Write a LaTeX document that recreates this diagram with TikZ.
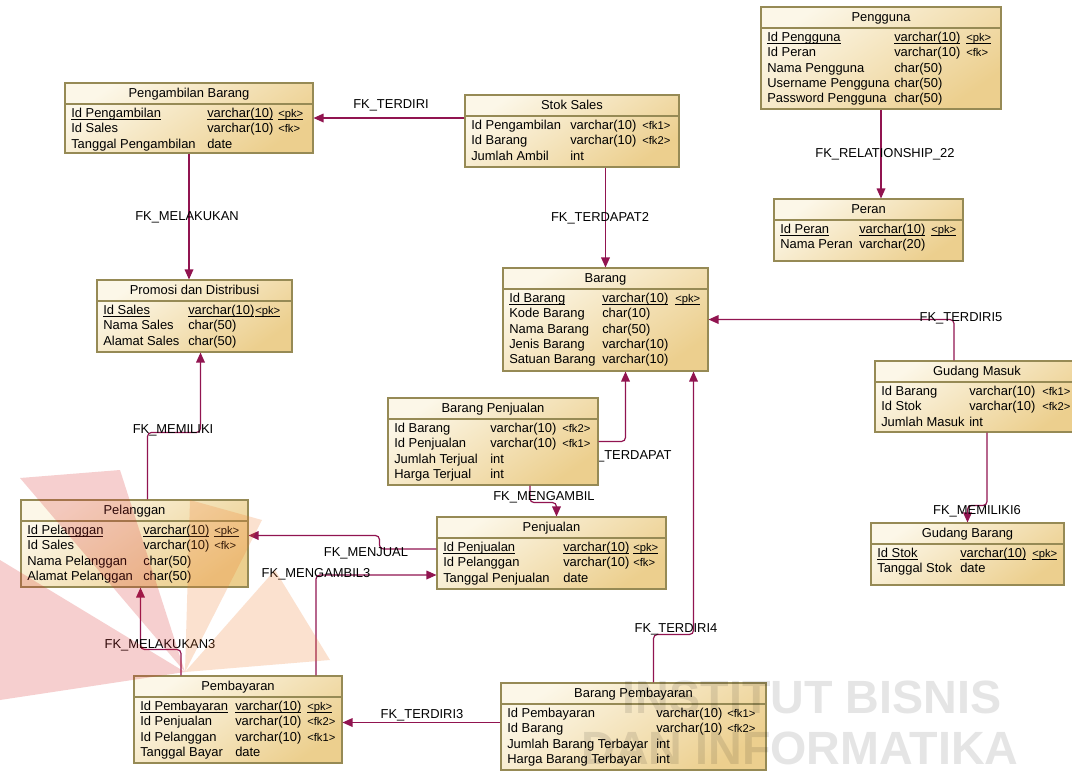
\documentclass[tikz,border=0pt]{standalone}
\usepackage{fontspec}
\setmainfont{Liberation Sans}
\usetikzlibrary{arrows.meta, positioning, calc, fit, backgrounds}

\definecolor{entlight}{RGB}{252,247,232}
\definecolor{entdark}{RGB}{236,207,142}
\definecolor{entline}{RGB}{150,138,85}
\definecolor{fkline}{RGB}{145,20,80}
\definecolor{logored}{RGB}{215,40,40}
\definecolor{logoorange}{RGB}{240,120,40}

\tikzstyle{entbox} = [rectangle, draw=entline, line width=0.8pt, inner sep=0pt, top color=entlight, bottom color=entdark, shading angle=35]
\tikzstyle{enttitle} = [anchor=base, inner sep=0pt]
\tikzstyle{entrow} = [anchor=base west, inner sep=0pt]
\tikzstyle{entkey} = [anchor=base west, inner sep=0pt, font=\fontsize{8.4}{9}\selectfont]
\tikzstyle{fk} = [draw=fkline, line width=0.9pt, rounded corners=3pt, -{Triangle[length=7.5pt,width=6.5pt]}]
\tikzstyle{fklabel} = [inner sep=0pt, text=black]
\tikzstyle{watermark} = [text=black, opacity=0.1, font=\bfseries\fontsize{35}{35}\selectfont]

% underline close to the baseline
\newcommand{\garis}[1]{\setbox0=\hbox{#1}\rlap{\rule[-1.7pt]{\wd0}{0.55pt}}\box0}

% #1 name, #2-#5 box corners, #6 title, #7 type column, #8 key column, #9 rows
\newcommand{\entitas}[9]{%
  \node[entbox, fit={(#2,#3) (#4,#5)}] (#1) {};
  \node[enttitle] (#1-judul) at ({(#2+#4)/2},#3+14.6) {#6};
  \draw[entline, line width=0.8pt] (#2,#3+21) -- (#4,#3+21);
  \foreach \kolom/\tipe/\kunci [count=\i] in {#9} {
    \node[entrow] (#1-k\i) at (#2+6,#3+34.6+15.3*\i-15.3) {\kolom};
    \node[entrow] (#1-t\i) at (#7,#3+34.6+15.3*\i-15.3) {\tipe};
    \node[entkey] (#1-c\i) at (#8,#3+34.6+15.3*\i-15.3) {\kunci};
  }%
}

\begin{document}
\begin{tikzpicture}[x=0.75pt, y=-0.75pt, font=\fontsize{9.7}{11}\selectfont]
\useasboundingbox (0,0) rectangle (1072,779);

% tables
\entitas{pengambilan}{65}{83}{313}{153}{Pengambilan Barang}{207}{278}{\garis{Id Pengambilan}/\garis{varchar(10)}/\garis{<pk>}, Id Sales/varchar(10)/<fk>, Tanggal Pengambilan/date/{}}
\entitas{stoksales}{465}{95}{679}{167}{Stok Sales}{570}{642}{Id Pengambilan/varchar(10)/<fk1>, Id Barang/varchar(10)/<fk2>, Jumlah Ambil/int/{}}
\entitas{pengguna}{761}{7}{1001}{109}{Pengguna}{894}{966}{\garis{Id Pengguna}/\garis{varchar(10)}/\garis{<pk>}, Id Peran/varchar(10)/<fk>, Nama Pengguna/char(50)/{}, Username Pengguna/char(50)/{}, Password Pengguna/char(50)/{}}
\entitas{peran}{774}{199}{963}{261}{Peran}{859}{931}{\garis{Id Peran}/\garis{varchar(10)}/\garis{<pk>}, Nama Peran/varchar(20)/{}}
\entitas{promosi}{97}{280}{292}{352}{Promosi dan Distribusi}{188}{255}{\garis{Id Sales}/\garis{varchar(10)}/\garis{<pk>}, Nama Sales/char(50)/{}, Alamat Sales/char(50)/{}}
\entitas{barang}{503}{268}{708}{371}{Barang}{602}{675}{\garis{Id Barang}/\garis{varchar(10)}/\garis{<pk>}, Kode Barang/char(10)/{}, Nama Barang/char(50)/{}, Jenis Barang/varchar(10)/{}, Satuan Barang/varchar(10)/{}}
\entitas{barangpenjualan}{388}{398}{598}{485}{Barang Penjualan}{490}{562}{Id Barang/varchar(10)/<fk2>, Id Penjualan/varchar(10)/<fk1>, Jumlah Terjual/int/{}, Harga Terjual/int/{}}
\entitas{gudangmasuk}{875}{361}{1079}{432}{Gudang Masuk}{969}{1042}{Id Barang/varchar(10)/<fk1>, Id Stok/varchar(10)/<fk2>, Jumlah Masuk/int/{}}
\entitas{gudangbarang}{871}{523}{1064}{585}{Gudang Barang}{960}{1032}{\garis{Id Stok}/\garis{varchar(10)}/\garis{<pk>}, Tanggal Stok/date/{}}
\entitas{pelanggan}{21}{500}{248}{587}{Pelanggan}{143}{214}{\garis{Id Pelanggan}/\garis{varchar(10)}/\garis{<pk>}, Id Sales/varchar(10)/<fk>, Nama Pelanggan/char(50)/{}, Alamat Pelanggan/char(50)/{}}
\entitas{penjualan}{437}{517}{666}{589}{Penjualan}{563}{633}{\garis{Id Penjualan}/\garis{varchar(10)}/\garis{<pk>}, Id Pelanggan/varchar(10)/<fk>, Tanggal Penjualan/date/{}}
\entitas{pembayaran}{134}{676}{342}{763}{Pembayaran}{235}{307}{\garis{Id Pembayaran}/\garis{varchar(10)}/\garis{<pk>}, Id Penjualan/varchar(10)/<fk2>, Id Pelanggan/varchar(10)/<fk1>, Tanggal Bayar/date/{}}
\entitas{barangpembayaran}{501}{683}{766}{770}{Barang Pembayaran}{656}{727}{Id Pembayaran/varchar(10)/<fk1>, Id Barang/varchar(10)/<fk2>, Jumlah Barang Terbayar/int/{}, Harga Barang Terbayar/int/{}}

% references
\draw[fk] (stoksales.west |- pengambilan.east) -- (pengambilan.east);
\draw[fk] (pengambilan.south) -- (pengambilan.south |- promosi.north);
\draw[fk] (stoksales.south -| barang.north) -- (barang.north);
\draw[fk] (pengguna.south) -- (pengguna.south |- peran.north);
\draw[fk] ($(gudangmasuk.north)+(-23,0)$) |- (barang.east);
\draw[fk] ($(gudangmasuk.south)+(10,0)$) -- ++(0,73) -| (gudangbarang.north);
\draw[fk] ($(pelanggan.north)+(13,0)$) -- ++(0,-67) -| ($(promosi.south)+(6,0)$);
\draw[fk] (barangpenjualan.east) -| ($(barang.south)+(20,0)$);
\draw[fk] ($(barangpenjualan.south)+(37,0)$) -- ++(0,17) -| ($(penjualan.north)+(5,0)$);
\draw[fk] ($(penjualan.west)+(0,-4)$) -- ++(-57,0) |- ($(pelanggan.east)+(0,-8)$);
\draw[fk] ($(pembayaran.north)+(78,0)$) |- ($(penjualan.west)+(0,22)$);
\draw[fk] ($(pembayaran.north)+(-57,0)$) -- ++(0,-26) -| ($(pelanggan.south)+(6,0)$);
\draw[fk] ($(barangpembayaran.west |- pembayaran.east)+(0,3)$) -- ($(pembayaran.east)+(0,3)$);
\draw[fk] ($(barangpembayaran.north)+(20,0)$) -- ++(0,-48) -| ($(barang.south)+(88,0)$);

% labels
\node[fklabel] (lterdiri) at (391,105) {FK\_TERDIRI};
\node[fklabel] (lmelakukan) at (187,217) {FK\_MELAKUKAN};
\node[fklabel] (lterdapat2) at (600,218) {FK\_TERDAPAT2};
\node[fklabel] (lrel22) at (885,154) {FK\_RELATIONSHIP\_22};
\node[fklabel] (lterdiri5) at (961,318) {FK\_TERDIRI5};
\node[fklabel] (lmemiliki6) at (977,511) {FK\_MEMILIKI6};
\node[fklabel] (lmemiliki) at (173,430) {FK\_MEMILIKI};
\node[fklabel] (lmengambil) at (544,497) {FK\_MENGAMBIL};
\node[fklabel] (lmenjual) at (366,553) {FK\_MENJUAL};
\node[fklabel] (lmengambil3) at (316,574) {FK\_MENGAMBIL3};
\node[fklabel] (lmelakukan3) at (160,645) {FK\_MELAKUKAN3};
\node[fklabel] (lterdiri3) at (422,715) {FK\_TERDIRI3};
\node[fklabel] (lterdiri4) at (676,629) {FK\_TERDIRI4};
\begin{scope}[on background layer]
  \fill[white] (0,0) rectangle (1072,779);
  \node[fklabel] (lterdapat) at (626,456) {FK\_TERDAPAT};
\end{scope}

% watermark
\begin{scope}[opacity=0.22]
  \fill[logored] (185,672) -- (20,478) -- (120,470) -- cycle;
  \fill[logored] (185,672) -- (0,560) -- (0,700) -- cycle;
  \fill[logoorange] (185,672) -- (190,500) -- (262,520) -- cycle;
  \fill[logoorange] (185,672) -- (275,570) -- (330,660) -- cycle;
\end{scope}
\node[watermark] (wm1) at (812,697) {INSTITUT BISNIS};
\node[watermark] (wm2) at (800,748) {DAN INFORMATIKA};
\end{tikzpicture}
\end{document}
